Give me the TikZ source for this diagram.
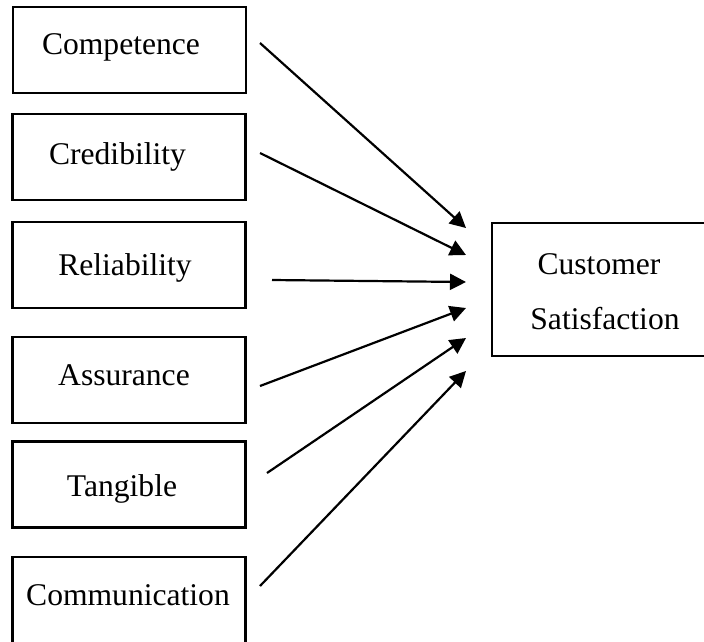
\documentclass[tikz,border=0pt]{standalone}
\usepackage{fontspec}
\setmainfont{Liberation Serif}
\usetikzlibrary{arrows.meta}
\begin{document}
\begin{tikzpicture}[x=1pt,y=-1pt,
  box/.style={draw,line width=2.2pt,inner sep=0pt,minimum width=233pt,minimum height=86pt},
  lbl/.style={anchor=base,inner sep=0pt,font=\fontsize{31.6}{38}\selectfont},
  conn/.style={line width=2.2pt,-{Triangle[length=16pt,width=16pt]}}]
\useasboundingbox (0,0) rectangle (704,641);
% boxes
\node[box] (comp) at (129.5,50) {};
\node[box] (cred) at (129,157) {};
\node[box] (reli) at (129,265) {};
\node[box] (assu) at (129,380) {};
\node[box] (tang) at (129,484.5) {};
\node[box] (comm) at (129,600) {};
\node[box,minimum width=220pt,minimum height=133pt] (cust) at (602,289.5) {};
% labels
\node[lbl] (tcomp) at (121,54) {Competence};
\node[lbl] (tcred) at (117.5,164) {Credibility};
\node[lbl] (treli) at (125,275) {Reliability};
\node[lbl] (tassu) at (124,385) {Assurance};
\node[lbl] (ttang) at (122,496) {Tangible};
\node[lbl] (tcomm) at (128,605) {Communication};
\node[lbl] (tcust1) at (599,274) {Customer};
\node[lbl] (tcust2) at (605,329) {Satisfaction};
% connector ends
\coordinate (s1) at (260,43);  \coordinate (e1) at (466,228);
\coordinate (s2) at (260,153); \coordinate (e2) at (466,255);
\coordinate (s3) at (272,280); \coordinate (e3) at (466,282);
\coordinate (s4) at (260,386); \coordinate (e4) at (466,308);
\coordinate (s5) at (267,473); \coordinate (e5) at (466,338);
\coordinate (s6) at (260,586); \coordinate (e6) at (466,371);
\draw[conn] (s1) -- (e1);
\draw[conn] (s2) -- (e2);
\draw[conn] (s3) -- (e3);
\draw[conn] (s4) -- (e4);
\draw[conn] (s5) -- (e5);
\draw[conn] (s6) -- (e6);
\end{tikzpicture}
\end{document}
